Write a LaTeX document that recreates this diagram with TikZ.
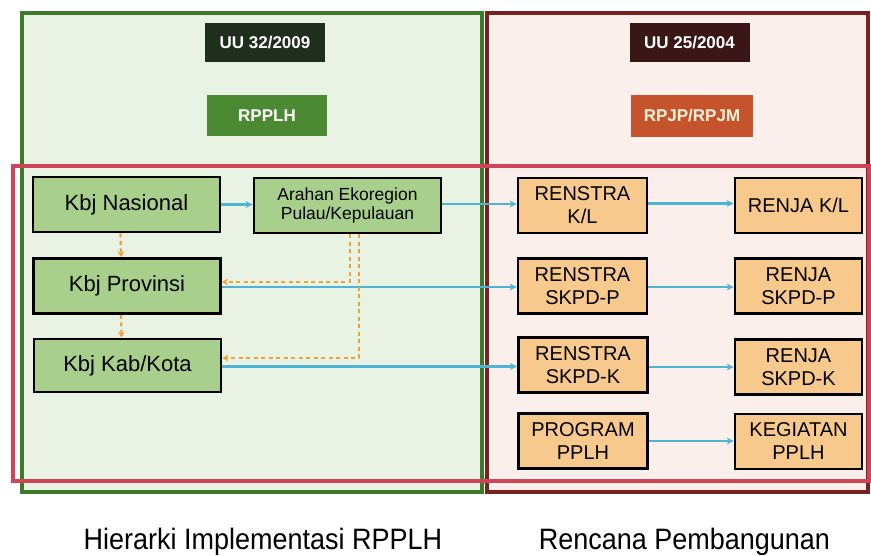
\documentclass[tikz,border=0pt]{standalone}
\usepackage{fontspec}
\setmainfont{Liberation Sans}
\usetikzlibrary{arrows.meta}
\definecolor{lgbg}{HTML}{E9F3E4}
\definecolor{rbg}{HTML}{FAEFEA}
\definecolor{gframe}{HTML}{3E7A2A}
\definecolor{rframe}{HTML}{7A2222}
\definecolor{crim}{HTML}{D04457}
\definecolor{gfill}{HTML}{A8D08C}
\definecolor{ofill}{HTML}{F8C98C}
\definecolor{uug}{HTML}{1F2E1D}
\definecolor{rpg}{HTML}{4B8A33}
\definecolor{uur}{HTML}{3B1616}
\definecolor{rpr}{HTML}{C5532B}
\definecolor{cream}{HTML}{FFF2DC}
\definecolor{blu}{HTML}{4DB5D3}
\definecolor{org}{HTML}{F0A23A}
\begin{document}
\begin{tikzpicture}[x=1pt,y=-1pt,
 hdr/.style={draw=none, text=white, font=\fontsize{17}{19}\selectfont\bfseries, inner sep=0pt, minimum width=120pt, minimum height=39pt},
 gbox/.style={draw=black, line width=2.8pt, fill=gfill, inner sep=0pt, minimum width=187pt, minimum height=55pt, align=center, font=\fontsize{22}{24}\selectfont},
 obox/.style={draw=black, line width=2.8pt, fill=ofill, inner sep=0pt, minimum width=129pt, minimum height=55pt, align=center, font=\fontsize{20}{23}\selectfont},
 barrow/.style={draw=blu, line width=2.2pt, -{Stealth[length=7pt,width=7pt]}},
 oarrow/.style={draw=org, line width=2.2pt, dash pattern=on 4pt off 3.5pt, -{Stealth[length=6pt,width=7pt]}},
 caption/.style={font=\fontsize{29.5}{32}\selectfont, anchor=base, inner sep=0pt}
]
\useasboundingbox (0,0) rectangle (871,555);
\fill[white] (0,0) rectangle (871,555);
% frames
\draw[gframe, line width=3.5pt, fill=lgbg] (22,13) rectangle (482,492);
\draw[rframe, line width=3.5pt, fill=rbg] (487,13) rectangle (868,492);
\draw[crim, line width=4pt] (13,166) rectangle (869,481);
% headers
\node[hdr, fill=uug] (uu1) at (265,42.5) {UU 32/2009};
\node[hdr, fill=rpg, minimum height=41pt] (rpplh) at (267,115.5) {RPPLH};
\node[hdr, fill=uur] (uu2) at (689.5,42.5) {UU 25/2004};
\node[hdr, fill=rpr, text=cream, minimum width=122pt, minimum height=42pt] (rpjp) at (692,116) {RPJP/RPJM};
% left column
\node[gbox] (nas) at (126.5,204.5) {Kbj Nasional};
\node[gbox] (prov) at (127,286) {Kbj Provinsi};
\node[gbox, minimum height=53pt] (kab) at (127.5,365.5) {Kbj Kab/Kota};
\node[gbox, font=\fontsize{17.5}{19}\selectfont] (arahan) at (347.5,205.5) {Arahan Ekoregion\\Pulau/Kepulauan};
% right columns
\node[obox] (rkl) at (582.5,205.5) {RENSTRA\\K/L};
\node[obox] (rsp) at (582.5,286) {RENSTRA\\SKPD-P};
\node[obox] (rsk) at (583,365) {RENSTRA\\SKPD-K};
\node[obox] (prog) at (583,441) {PROGRAM\\PPLH};
\node[obox, minimum width=127pt] (jkl) at (798.5,205.5) {RENJA K/L};
\node[obox, minimum width=127pt] (jsp) at (798.5,286) {RENJA\\SKPD-P};
\node[obox, minimum width=127pt] (jsk) at (798.5,367) {RENJA\\SKPD-K};
\node[obox, minimum width=127pt] (keg) at (798.5,441.5) {KEGIATAN\\PPLH};
% connector anchor points
\coordinate (pa) at ([yshift=1.5pt]arahan.east);
\coordinate (pp) at ([yshift=-1pt]prov.east);
\coordinate (pk) at ([yshift=-1pt]kab.east);
\coordinate (pr1) at ([yshift=2pt]rkl.east);
\coordinate (pr2) at ([yshift=-1pt]rsp.east);
\coordinate (pr3) at ([yshift=-2pt]rsk.east);
\coordinate (on1) at ([xshift=-6pt]nas.south);
\coordinate (on2) at ([xshift=-6pt]prov.north);
\coordinate (on3) at ([xshift=-6pt]prov.south);
\coordinate (on4) at ([xshift=-6pt]kab.north);
\coordinate (oa1) at ([xshift=2.5pt]arahan.south);
\coordinate (oa2) at ([xshift=11.5pt]arahan.south);
\coordinate (op) at ([yshift=4pt]prov.east);
\coordinate (ok) at ([yshift=7.5pt]kab.east);
% blue arrows
\draw[barrow] (nas.east) -- (nas.east -| arahan.west);
\draw[barrow] (pa) -- (pa -| rkl.west);
\draw[barrow] (pp) -- (pp -| rsp.west);
\draw[barrow] (pk) -- (pk -| rsk.west);
\draw[barrow] (pr1) -- (pr1 -| jkl.west);
\draw[barrow] (pr2) -- (pr2 -| jsp.west);
\draw[barrow] (pr3) -- (pr3 -| jsk.west);
\draw[barrow] (prog.east) -- (prog.east -| keg.west);
% orange dashed arrows
\draw[oarrow] (on1) -- (on2);
\draw[oarrow] (on3) -- (on4);
\draw[oarrow] (oa1) |- (op);
\draw[oarrow] (oa2) |- (ok);
% captions
\node[caption] (cap1) at (263,549.5) {\scalebox{0.915}[1]{Hierarki Implementasi RPPLH}};
\node[caption] (cap2) at (684.5,549.5) {\scalebox{0.915}[1]{Rencana Pembangunan}};
\end{tikzpicture}
\end{document}
